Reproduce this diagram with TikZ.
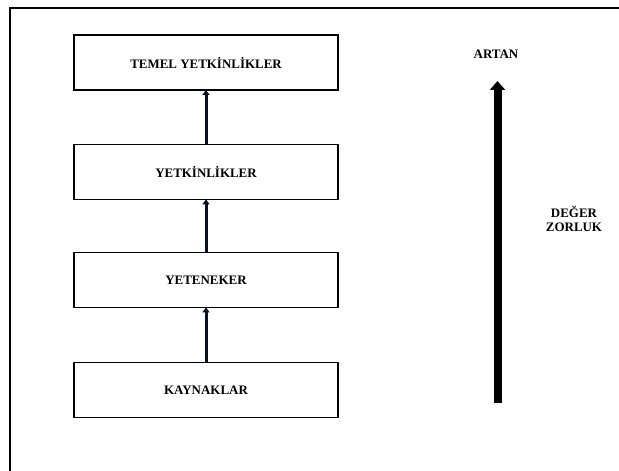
\documentclass[tikz,border=0pt]{standalone}
\usepackage{fontspec}
\setmainfont{Liberation Serif}
\usetikzlibrary{arrows.meta}
\begin{document}
\begin{tikzpicture}[x=1bp, y=-1bp,
  lbl/.style={font=\fontsize{13}{14}\selectfont\bfseries, inner sep=0pt},
  levelbox/.style={draw=black, line width=1.8bp, minimum width=264bp,
    minimum height=55bp, inner sep=0pt, lbl},
  uparrow/.style={draw={rgb,255:red,10;green,18;blue,34}, line width=3bp,
    -{Triangle[width=7bp,length=5bp]}, shorten >=-1bp},
  bigarrow/.style={draw=black, line width=8bp,
    -{Triangle[width=15bp,length=9bp]}}]
  \useasboundingbox (0,0) rectangle (619,471);
  % outer frame, open to the right and below
  \draw[line width=2bp] (10,480) -- (10,8.5) -- (630,8.5);

  % levels
  \node[levelbox] (temel) at (206,62.5) {TEMEL YETK\.{I}NL\.{I}KLER};
  \node[levelbox] (yetkin) at (206,172) {YETK\.{I}NL\.{I}KLER};
  \node[levelbox] (yetenek) at (206,280) {YETENEKER};
  \node[levelbox] (kaynak) at (206,390) {KAYNAKLAR};

  \draw[uparrow] (kaynak.north) -- (yetenek.south);
  \draw[uparrow] (yetenek.north) -- (yetkin.south);
  \draw[uparrow] (yetkin.north) -- (temel.south);

  % rising scale
  \node[lbl] (artan) at (496,54) {ARTAN};
  \coordinate (scalebot) at (497.5,403);
  \coordinate (scaletop) at (497.5,81);
  \draw[bigarrow] (scalebot) -- (scaletop);
  \node[lbl, align=center] (deger) at (574,219) {DE\u{G}ER\\ZORLUK};
\end{tikzpicture}
\end{document}
